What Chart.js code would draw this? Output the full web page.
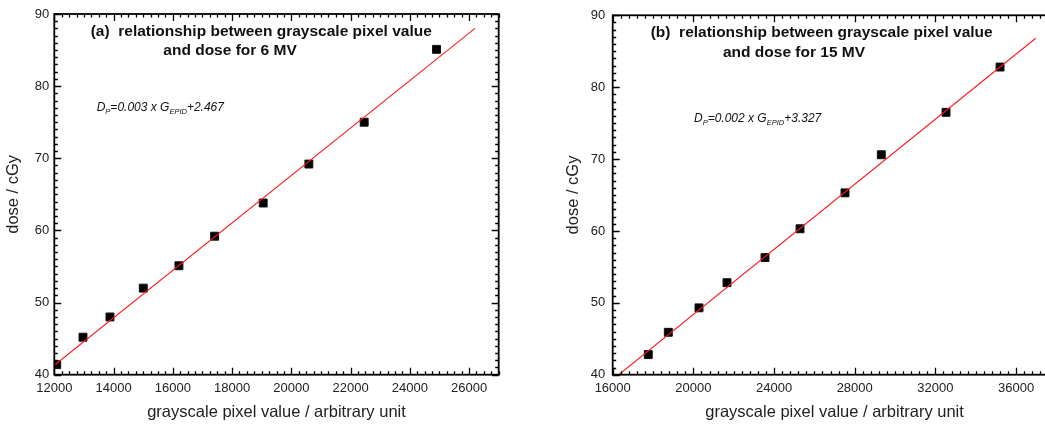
<!DOCTYPE html>
<html>
<head>
<meta charset="utf-8">
<script src="https://cdn.jsdelivr.net/npm/chart.js@4"></script>
<style>
  html, body { margin: 0; padding: 0; background: #fff; overflow: hidden; width: 1045px; height: 424px; }
  .panel { position: absolute; top: 0; }
</style>
</head>
<body>
<div class="panel" style="left:0"><canvas id="chart6" width="522" height="424"></canvas></div>
<div class="panel" style="left:522px"><canvas id="chart15" width="560" height="424"></canvas></div>
<script>
// 6 MV: measured points + fitted line
const gray6 = [12081, 12968, 13879, 15003, 16207, 17412, 19051, 20593, 22459, 24901];
const dose6 = [41.4, 45.2, 48.0, 52.0, 55.1, 59.2, 63.8, 69.2, 75.0, 85.1];
const fitGray6 = [12000, 26200];
const fitDose6 = [41.3, 88.0];
const xTicks6 = [12000, 14000, 16000, 18000, 20000, 22000, 24000, 26000];

// 15 MV
const gray15 = [17765, 18757, 20279, 21667, 23552, 25288, 27519, 29319, 32527, 35206];
const dose15 = [42.8, 45.9, 49.3, 52.8, 56.3, 60.3, 65.3, 70.6, 76.5, 82.8];
const fitGray15 = [16300, 36975];
const fitDose15 = [40, 86.8];
const xTicks15 = [16000, 20000, 24000, 28000, 32000, 36000];

const doseTicks = [40, 50, 60, 70, 80, 90];

const FONT = '"Liberation Sans", Arial, Helvetica, sans-serif';
const TXT = '#222';

// box frame with inward major/minor ticks on all four sides, titles, fit equation
const framePlugin = {
  id: 'frame',
  afterDatasetsDraw(chart, args, o) {
    const { ctx, chartArea: a, scales: { x, y } } = chart;
    ctx.save();
    ctx.strokeStyle = '#000';
    ctx.lineWidth = 1.3;
    ctx.beginPath();
    const nx = Math.round((x.max - x.min) / o.xMinor);
    const kx = Math.round(o.xMajor / o.xMinor);
    for (let i = 0; i <= nx; i++) {
      const px = Math.round(x.getPixelForValue(x.min + i * o.xMinor)) + 0.5;
      const len = i % kx === 0 ? 7 : 3.5;
      ctx.moveTo(px, a.bottom); ctx.lineTo(px, a.bottom - len);
      ctx.moveTo(px, a.top); ctx.lineTo(px, a.top + len);
    }
    const ny = Math.round((y.max - y.min) / o.yMinor);
    const ky = Math.round(o.yMajor / o.yMinor);
    for (let i = 0; i <= ny; i++) {
      const py = Math.round(y.getPixelForValue(y.min + i * o.yMinor)) + 0.5;
      const len = i % ky === 0 ? 7 : 3.5;
      ctx.moveTo(a.left, py); ctx.lineTo(a.left + len, py);
      ctx.moveTo(a.right, py); ctx.lineTo(a.right - len, py);
    }
    ctx.stroke();
    ctx.lineWidth = 1.8;
    ctx.strokeRect(a.left, a.top, a.right - a.left, a.bottom - a.top);

    // panel title
    ctx.fillStyle = '#111';
    ctx.textBaseline = 'middle';
    ctx.textAlign = 'left';
    ctx.font = 'bold 15.5px ' + FONT;
    o.title.forEach(t => ctx.fillText(t.text, t.x, t.y));

    // fit equation with subscripts
    let cx = o.eq.x;
    o.eq.parts.forEach(([s, sub]) => {
      ctx.font = 'italic ' + (sub ? 7.5 : 12) + 'px ' + FONT;
      ctx.fillText(s, cx, o.eq.y + (sub ? 4 : 0));
      cx += ctx.measureText(s).width;
    });
    ctx.restore();
  }
};

function makeChart(id, cfg) {
  const pts = cfg.gray.map((g, i) => ({ x: g, y: cfg.dose[i] }));
  const fit = cfg.fitGray.map((g, i) => ({ x: g, y: cfg.fitDose[i] }));
  return new Chart(document.getElementById(id), {
    type: 'scatter',
    data: {
      datasets: [
        {
          data: fit, showLine: true, pointRadius: 0,
          borderColor: '#ff1a1a', borderWidth: 1.1, order: 0
        },
        {
          data: pts, pointStyle: 'rect', pointRadius: 5.6,
          backgroundColor: '#000', borderColor: '#111', borderWidth: 1, order: 1
        }
      ]
    },
    options: {
      responsive: false,
      animation: false,
      layout: { padding: { top: 14, right: cfg.padRight, left: 0, bottom: 0 } },
      plugins: {
        legend: { display: false },
        tooltip: { enabled: false },
        frame: cfg.frame
      },
      scales: {
        x: {
          type: 'linear', min: cfg.xMin, max: cfg.xMax,
          afterBuildTicks: s => { s.ticks = cfg.xTicks.map(v => ({ value: v })); },
          ticks: {
            autoSkip: false, maxRotation: 0, callback: v => String(v),
            color: TXT, font: { family: FONT, size: 13 }, padding: 6
          },
          grid: { display: false, drawTicks: false },
          border: { display: false },
          title: {
            display: true, text: 'grayscale pixel value / arbitrary unit',
            color: TXT, font: { family: FONT, size: 16.5 }, padding: { top: 0, bottom: 2 }
          },
          afterFit: s => { s.height = 49.3; }
        },
        y: {
          type: 'linear', min: 40, max: 90,
          afterBuildTicks: s => { s.ticks = doseTicks.map(v => ({ value: v })); },
          ticks: {
            callback: v => String(v),
            color: TXT, font: { family: FONT, size: 13 }, padding: cfg.yPad
          },
          grid: { display: false, drawTicks: false },
          border: { display: false },
          title: {
            display: true, text: 'dose / cGy',
            color: TXT, font: { family: FONT, size: 16.5 }, padding: { top: cfg.yTitlePad, bottom: 0 }
          },
          afterFit: s => { s.width = cfg.yWidth; }
        }
      }
    },
    plugins: [framePlugin]
  });
}

makeChart('chart6', {
  gray: gray6, dose: dose6, fitGray: fitGray6, fitDose: fitDose6, xTicks: xTicks6,
  xMin: 12000, xMax: 27000, yWidth: 54.3, padRight: 23.3, yPad: 5, yTitlePad: 4,
  frame: {
    xMajor: 2000, xMinor: 250, yMajor: 10, yMinor: 1,
    title: [
      { text: '(a)  relationship between grayscale pixel value', x: 90.7, y: 31.3 },
      { text: 'and dose for 6 MV', x: 163.3, y: 51.2 }
    ],
    eq: { x: 96.7, y: 108, parts: [['D', 0], ['P', 1], ['=0.003 x G', 0], ['EPID', 1], ['+2.467', 0]] }
  }
});

makeChart('chart15', {
  gray: gray15, dose: dose15, fitGray: fitGray15, fitDose: fitDose15, xTicks: xTicks15,
  xMin: 16000, xMax: 38000, yWidth: 90.7, padRight: 25.6, yPad: 7.5, yTitlePad: 42,
  frame: {
    xMajor: 4000, xMinor: 400, yMajor: 10, yMinor: 1,
    title: [
      { text: '(b)  relationship between grayscale pixel value', x: 128.7, y: 33.2 },
      { text: 'and dose for 15 MV', x: 201, y: 52.8 }
    ],
    eq: { x: 172, y: 119, parts: [['D', 0], ['P', 1], ['=0.002 x G', 0], ['EPID', 1], ['+3.327', 0]] }
  }
});
</script>
</body>
</html>
